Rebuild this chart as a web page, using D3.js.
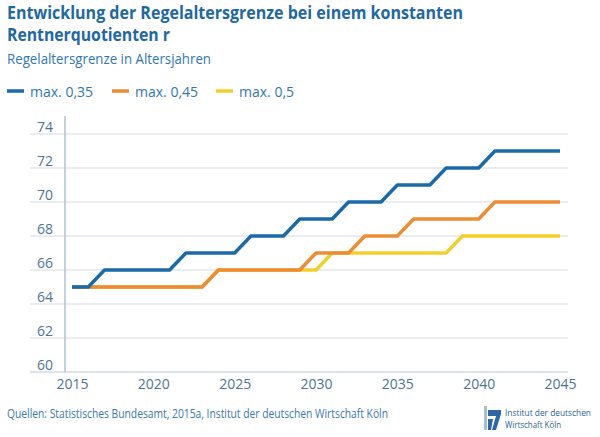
<!DOCTYPE html>
<html>
<head>
<meta charset="utf-8">
<title>Regelaltersgrenze</title>
<style>
  body { margin: 0; background: #fff; }
  svg { display: block; font-family: "Open Sans", "Noto Sans", sans-serif; }
</style>
</head>
<body>
<svg></svg>
<script src="https://cdn.jsdelivr.net/npm/d3@7"></script>
<script>
// data
var years = [2015, 2016, 2017, 2018, 2019, 2020, 2021, 2022, 2023, 2024, 2025,
             2026, 2027, 2028, 2029, 2030, 2031, 2032, 2033, 2034, 2035,
             2036, 2037, 2038, 2039, 2040, 2041, 2042, 2043, 2044, 2045];
var max035 = [65, 65, 66, 66, 66, 66, 66, 67, 67, 67, 67,
              68, 68, 68, 69, 69, 69, 70, 70, 70, 71,
              71, 71, 72, 72, 72, 73, 73, 73, 73, 73];
var max045 = [65, 65, 65, 65, 65, 65, 65, 65, 65, 66, 66,
              66, 66, 66, 66, 67, 67, 67, 68, 68, 68,
              69, 69, 69, 69, 69, 70, 70, 70, 70, 70];
var max05  = [65, 65, 65, 65, 65, 65, 65, 65, 65, 66, 66,
              66, 66, 66, 66, 66, 67, 67, 67, 67, 67,
              67, 67, 67, 68, 68, 68, 68, 68, 68, 68];
var seriesNames = ["max. 0,35", "max. 0,45", "max. 0,5"];
var xTicks = [2015, 2020, 2025, 2030, 2035, 2040, 2045];
var yTicks = [60, 62, 64, 66, 68, 70, 72, 74];

var colors = ["#1b6aa8", "#ec8c33", "#f2cf2b"];
var W = 600, H = 437;

var svg = d3.select("svg").attr("width", W).attr("height", H);

var x = d3.scaleLinear().domain([2015, 2045]).range([72, 560]);
var y = d3.scaleLinear().domain([60, 74]).range([372, 134]);

// title
svg.append("text").attr("x", 7).attr("y", 19)
    .attr("textLength", 456).attr("lengthAdjust", "spacingAndGlyphs")
    .style("font-size", "17.5px").style("font-weight", "bold").style("fill", "#1f68a3")
    .text("Entwicklung der Regelaltersgrenze bei einem konstanten");
svg.append("text").attr("x", 7).attr("y", 41)
    .attr("textLength", 163).attr("lengthAdjust", "spacingAndGlyphs")
    .style("font-size", "17.5px").style("font-weight", "bold").style("fill", "#1f68a3")
    .text("Rentnerquotienten r");
svg.append("text").attr("x", 7).attr("y", 64)
    .attr("textLength", 204).attr("lengthAdjust", "spacingAndGlyphs")
    .style("font-size", "14px").style("fill", "#2f77b2")
    .text("Regelaltersgrenze in Altersjahren");

// legend
var legX = [7, 112, 216];
seriesNames.forEach(function(n, i) {
    svg.append("line").attr("x1", legX[i]).attr("x2", legX[i] + 17)
        .attr("y1", 91).attr("y2", 91)
        .style("stroke", colors[i]).style("stroke-width", 3.5);
    svg.append("text").attr("x", legX[i] + 23).attr("y", 97)
        .style("font-size", "14px").style("fill", "#2f77b2")
        .text(n);
});

// grid
svg.selectAll(".grid").data(yTicks).enter().append("line")
    .attr("class", "grid")
    .attr("x1", 30).attr("x2", 568)
    .attr("y1", function(d) { return y(d); })
    .attr("y2", function(d) { return y(d); })
    .style("stroke", function(d) { return d == 60 ? "#b9c8d6" : "#d3dbe3"; })
    .style("stroke-width", 1.2);

svg.append("line").attr("x1", 65).attr("x2", 65).attr("y1", 116).attr("y2", y(60))
    .style("stroke", "#aec2d4").style("stroke-width", 1.5);

// y labels (sit above the grid line)
svg.selectAll(".ylab").data(yTicks).enter().append("text")
    .attr("class", "ylab")
    .attr("x", 53).attr("y", function(d) { return y(d) - 2; })
    .attr("text-anchor", "end")
    .style("font-size", "14px").style("fill", "#4a7597")
    .text(function(d) { return d; });

// x labels
var xAxis = svg.append("g").attr("transform", "translate(0," + (y(60) + 1) + ")")
    .call(d3.axisBottom(x).tickValues(xTicks).tickFormat(d3.format("d")).tickSize(0).tickPadding(6));
xAxis.select(".domain").remove();
xAxis.selectAll("text").style("font-size", "14px").style("fill", "#4a7597")
    .style("font-family", "'Open Sans', sans-serif");

// lines, yellow below orange below blue
var line = d3.line()
    .x(function(d, i) { return x(years[i]); })
    .y(function(d) { return y(d); });
var all = [max035, max045, max05];
[2, 1, 0].forEach(function(i) {
    svg.append("path").datum(all[i])
        .attr("d", line)
        .style("fill", "none")
        .style("stroke", colors[i])
        .style("stroke-width", 3.5)
        .style("stroke-linejoin", "round");
});

// footer
svg.append("text").attr("x", 7).attr("y", 418)
    .attr("textLength", 381).attr("lengthAdjust", "spacingAndGlyphs")
    .style("font-size", "13px").style("fill", "#3a77ad")
    .text("Quellen: Statistisches Bundesamt, 2015a, Institut der deutschen Wirtschaft Köln");

// logo
var logo = svg.append("g").attr("transform", "translate(484,406)");
logo.append("rect").attr("x", 0).attr("y", 0).attr("width", 3).attr("height", 24).style("fill", "#a7bdd1");
logo.append("path").attr("d", "M4,4 L17,4 L17,8 L12,24 L8,24 L12,10 L4,10 Z").style("fill", "#2d67a6");
logo.append("path").attr("d", "M4,13 L9,13 L7,24 L4,24 Z").style("fill", "#2d67a6");
logo.append("text").attr("x", 21).attr("y", 10)
    .attr("textLength", 86).attr("lengthAdjust", "spacingAndGlyphs")
    .style("font-size", "9px").style("fill", "#2b5f95").text("Institut der deutschen");
logo.append("text").attr("x", 21).attr("y", 22)
    .attr("textLength", 56).attr("lengthAdjust", "spacingAndGlyphs")
    .style("font-size", "9px").style("fill", "#2b5f95").text("Wirtschaft Köln");
</script>
</body>
</html>
